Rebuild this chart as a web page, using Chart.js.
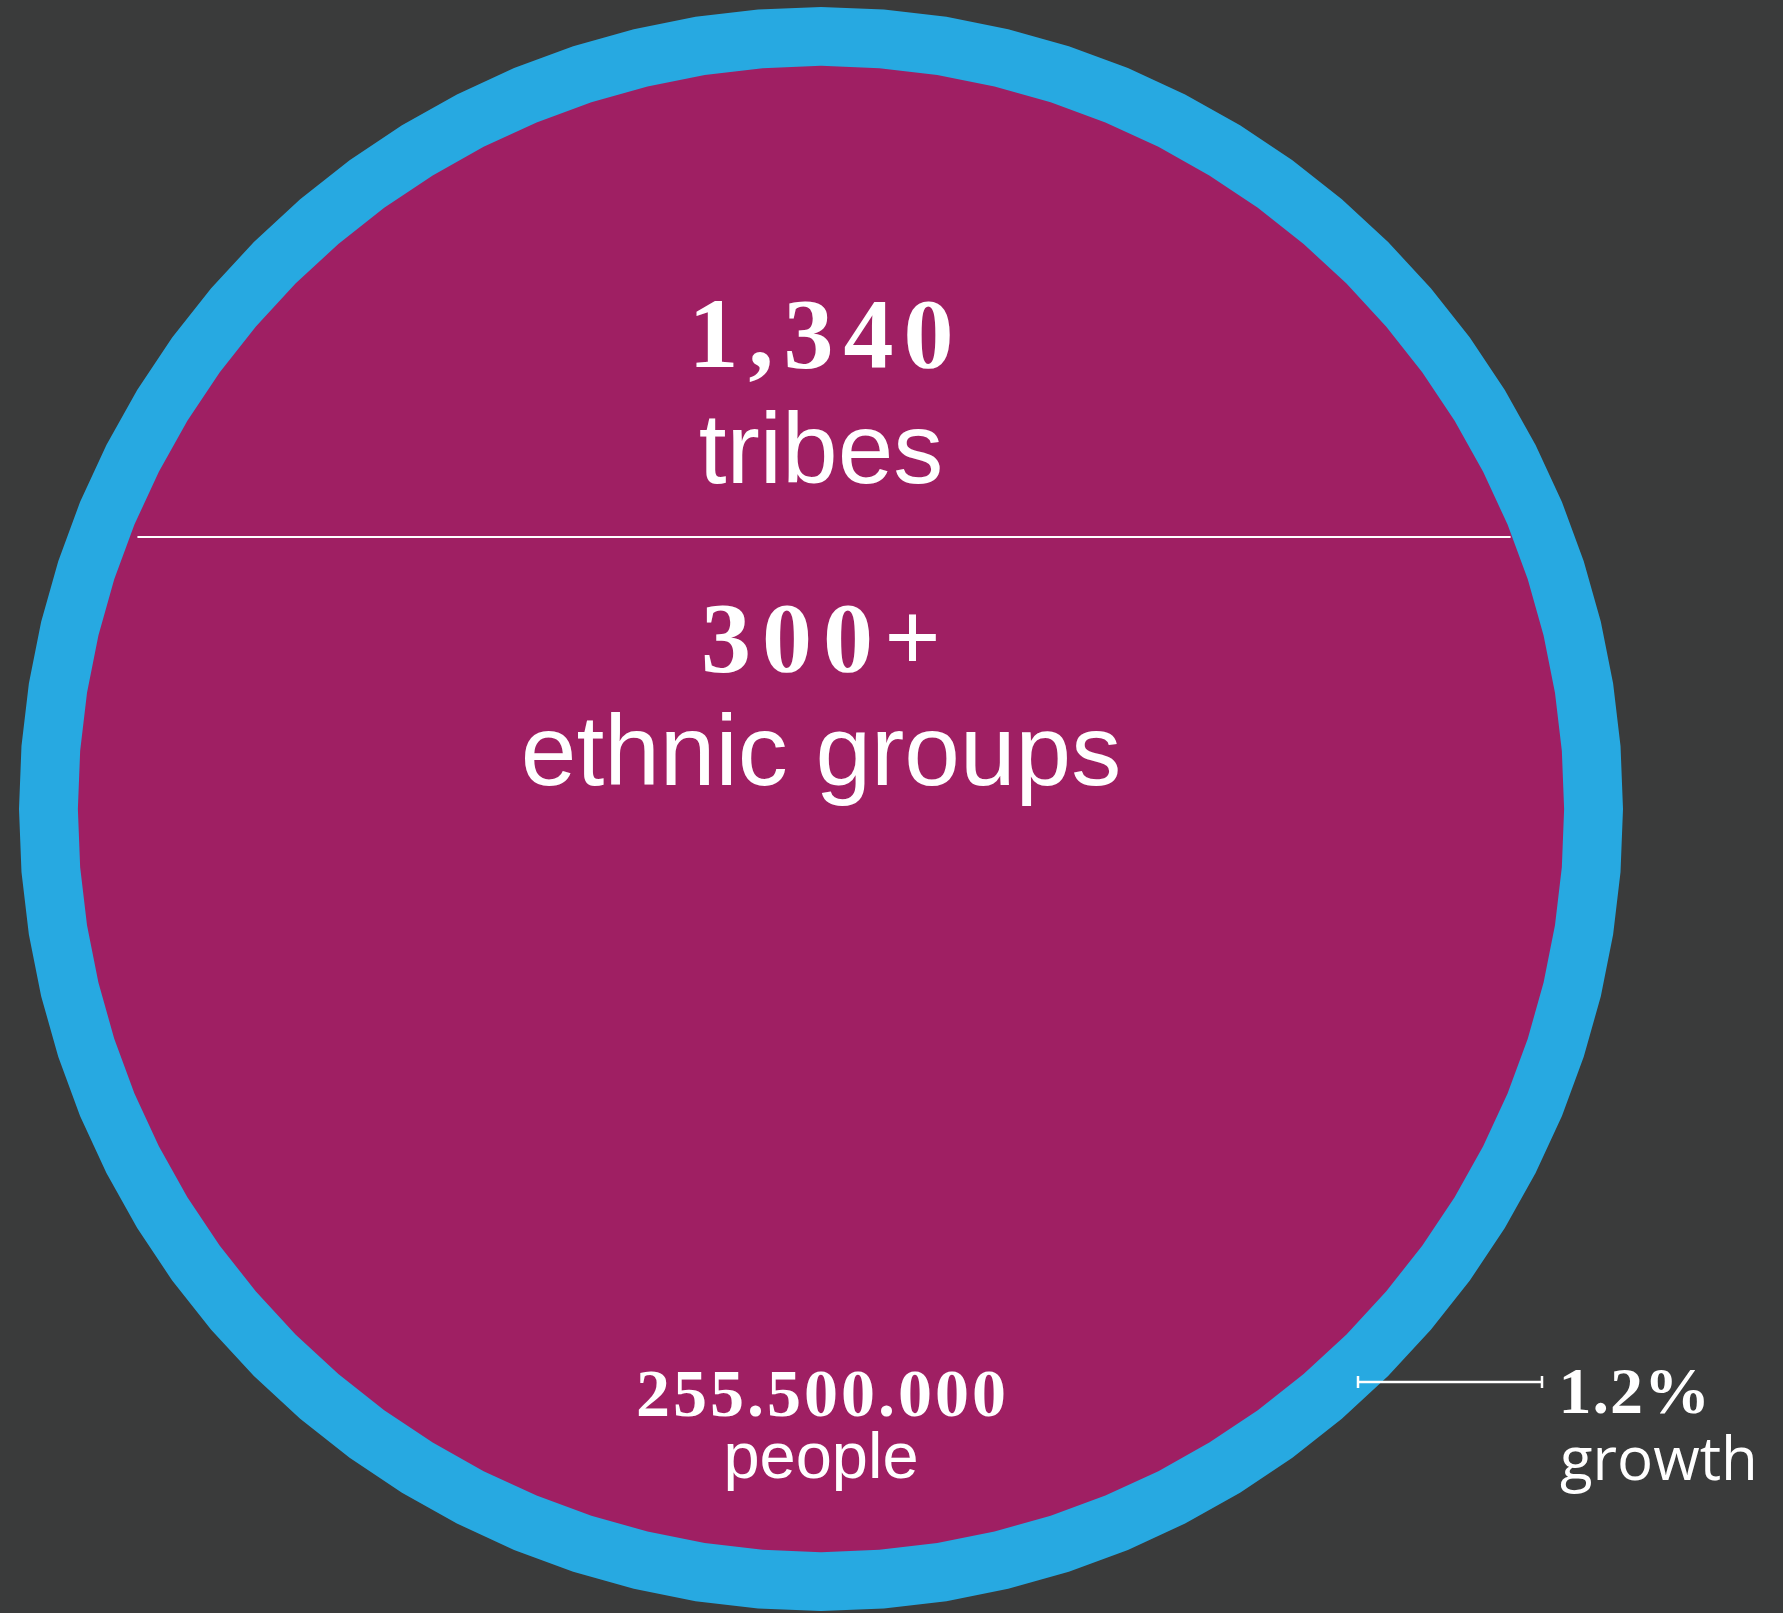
<!DOCTYPE html>
<html>
<head>
<meta charset="utf-8">
<script src="https://cdn.jsdelivr.net/npm/chart.js@4.4.1/dist/chart.umd.min.js"></script>
<style>
  html, body { margin: 0; padding: 0; background: #3a3b3b; }
  #wrap { width: 1783px; height: 1613px; }
</style>
</head>
<body>
<div id="wrap"><canvas id="popChart" width="1783" height="1613"></canvas></div>
<script>
// population and yearly growth
const population = 255500000;
const growthRate = 0.012;

// headline figures shown inside the disc
const headlineValues = ['1,340', '300+'];
const headlineLabels = ['tribes', 'ethnic groups'];

// 80 spokes give the disc its faceted edge
const spokes = Array.from({length: 80}, () => '');
const peopleRing = spokes.map(() => population);
const growthRing = spokes.map(() => population * (1 + growthRate));

function dotted(n){
    return String(n).replace(/\B(?=(\d{3})+(?!\d))/g, '.');
}

const textPlugin = {
    id: 'discText',
    afterDraw(chart){
        const ctx = chart.ctx;
        const scale = chart.scales.r;
        const cx = scale.xCenter, cy = scale.yCenter;
        ctx.save();
        ctx.fillStyle = '#ffffff';
        ctx.textAlign = 'center';
        ctx.textBaseline = 'alphabetic';

        function put(txt, x, y, font, spacing){
            ctx.font = font;
            ctx.letterSpacing = (spacing || 0) + 'px';
            ctx.fillText(txt, x + (spacing || 0) / 2, y);
        }

        put(headlineValues[0], cx, 367, 'bold 100px "Liberation Serif"', 10);
        put(headlineLabels[0], cx, 483, '100px "Liberation Sans"');

        // divider across the disc
        const r = scale.getDistanceFromCenterForValue(population);
        const dy = cy - 537;
        const half = Math.sqrt(r * r - dy * dy);
        ctx.strokeStyle = '#ffffff';
        ctx.lineWidth = 2;
        ctx.beginPath();
        ctx.moveTo(cx - half + 8, 537);
        ctx.lineTo(cx + half - 2, 537);
        ctx.stroke();

        put(headlineValues[1], cx, 671, 'bold 100px "Liberation Serif"', 11);
        put(headlineLabels[1], cx, 785, '100px "Liberation Sans"');

        put(dotted(population), cx, 1416, 'bold 68px "Liberation Serif"', 3);
        put('people', cx, 1478, '65px "Liberation Sans"');

        // growth marker
        ctx.lineWidth = 2.5;
        ctx.beginPath();
        ctx.moveTo(1358, 1382); ctx.lineTo(1542, 1382);
        ctx.moveTo(1358, 1376); ctx.lineTo(1358, 1388);
        ctx.moveTo(1542, 1376); ctx.lineTo(1542, 1388);
        ctx.stroke();

        ctx.textAlign = 'left';
        put((growthRate * 100).toFixed(1) + '%', 1558, 1413, 'bold 66px "Liberation Serif"', 1);
        put('growth', 1560, 1480, '60px "Open Sans"');
        ctx.restore();
    }
};

const ctx = document.getElementById('popChart').getContext('2d');
const popChart = new Chart(ctx, {
    type: 'radar',
    data: {
        labels: spokes,
        datasets: [
            {
                label: 'people',
                data: peopleRing,
                backgroundColor: '#9f1f63',
                borderColor: 'rgba(0,0,0,0)',
                borderWidth: 0,
                pointRadius: 0,
                fill: 'start'
            },
            {
                label: 'growth',
                data: growthRing,
                backgroundColor: '#27a9e1',
                borderColor: 'rgba(0,0,0,0)',
                borderWidth: 0,
                pointRadius: 0,
                fill: 'start'
            }
        ]
    },
    options: {
        responsive: false,
        animation: false,
        layout: {padding: {left: 19, top: 7, right: 159, bottom: 1}},
        plugins: {legend: {display: false}, tooltip: {enabled: false}},
        scales: {
            r: {
                display: false,
                min: 216800000,
                max: population * (1 + growthRate)
            }
        }
    },
    plugins: [textPlugin]
});
</script>
</body>
</html>
